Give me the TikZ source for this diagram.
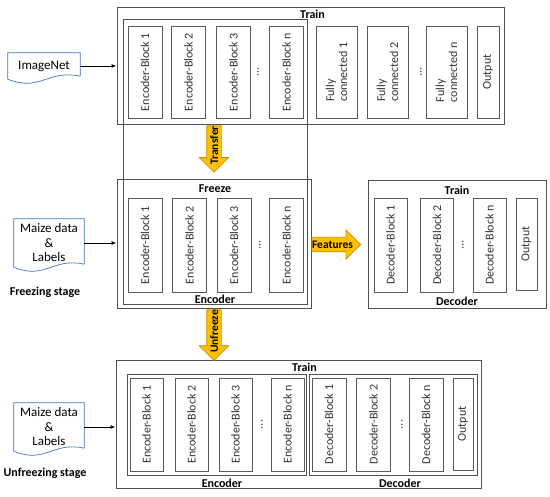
\documentclass[tikz,border=0pt]{standalone}
\usepackage{fontspec}
\setmainfont{Carlito}
\usetikzlibrary{arrows.meta,positioning,calc,shapes.arrows}

\definecolor{framegray}{HTML}{505050}
\definecolor{blkgray}{HTML}{5A5A5A}
\definecolor{txtgray}{HTML}{333333}
\definecolor{docblue}{HTML}{4472C4}
\definecolor{gold}{HTML}{FFC000}
\definecolor{golddark}{HTML}{BF9000}

% document symbol: straight top and sides, wavy bottom
\newcommand{\docwave}[1]{%
	\draw[docline] ($(#1.south east)+(0,-3)$) -- (#1.north east) -- (#1.north west) -- (#1.south west)
	.. controls ($(#1.south west)!0.45!(#1.south east)+(0,13)$) and ($(#1.south west)!0.55!(#1.south east)+(0,-10)$) .. ($(#1.south east)+(0,-3)$);}

\begin{document}
\begin{tikzpicture}[
		x=1pt,y=-1pt,
		>={Latex[length=5pt,width=4pt]},
		frame/.style={draw=framegray, line width=1pt, inner sep=0pt},
		blk/.style={draw=blkgray, line width=0.9pt, rotate=90, inner sep=1pt, text=txtgray, font=\fontsize{12}{13}\selectfont},
		dots/.style={rotate=90, inner sep=0pt, text=txtgray, font=\fontsize{12}{13}\selectfont},
		lbl/.style={inner sep=0pt, font=\fontsize{12}{14}\selectfont\bfseries},
		doc/.style={inner sep=0pt, align=center, font=\fontsize{13}{14.5}\selectfont},
		docline/.style={draw=docblue, line width=0.7pt},
		bigarrow/.style={single arrow, draw=golddark, fill=gold, line width=0.6pt,
			single arrow head extend=7.5pt, inner xsep=0pt, inner ysep=3pt,
			text height=8pt, text depth=0pt, font=\fontsize{11.5}{12}\selectfont\bfseries},
		link/.style={->, line width=0.9pt}
		]
		
		\useasboundingbox (0,0) rectangle (550,497);
		
		% --------------------------------------------------
		% Top: training on ImageNet
		% --------------------------------------------------
		\node[frame, minimum width=387pt, minimum height=117pt] (topTrain) at (310.5,66.5) {};
		\node[frame, minimum width=184pt, minimum height=285pt] (encTall) at (215,162.5) {};
		\node[lbl] at ($(topTrain.north)+(2,7)$) {Train};
		\node[lbl] at ($(encTall.south)+(0,-6)$) {Encoder};
		
		\foreach \i/\x in {1/145,2/188.5,3/233.5,n/286.5}
		{
			\node[blk, minimum width=92pt, minimum height=34pt] (te\i) at (\x,72) {Encoder-Block \i};
		}
		\node[dots] (tdots1) at (258,72) {...};
		
		\foreach \i/\x in {1/336.5,2/387.5,n/446.5}
		{
			\node[blk, align=left, minimum width=92pt, minimum height=41pt] (tf\i) at (\x,72) {Fully\\connected \i};
		}
		\node[dots] (tdots2) at (421,72) {...};
		\node[blk, minimum width=92pt, minimum height=22pt] (tout) at (488,72) {Output};
		
		\node[doc, minimum width=72pt, minimum height=26pt] (imgnet) at (44,66) {ImageNet};
		\docwave{imgnet}
		\draw[link] (imgnet.east) -- (imgnet.east -| topTrain.west);
		
		% --------------------------------------------------
		% Middle: freezing stage
		% --------------------------------------------------
		\node[frame, minimum width=194pt, minimum height=129pt] (freeze) at (214,244.5) {};
		\node[lbl] at ($(freeze.north)+(1,9.5)$) {Freeze};
		
		\foreach \i/\x in {1/145,2/189.5,3/234,n/286.5}
		{
			\node[blk, minimum width=94pt, minimum height=34pt] (me\i) at (\x,245) {Encoder-Block \i};
		}
		\node[dots] (mdots1) at (260,245) {...};
		
		\node[frame, minimum width=178pt, minimum height=128pt] (decTrain) at (457,245) {};
		\node[lbl] at ($(decTrain.north)+(0,9.5)$) {Train};
		\node[lbl] at ($(decTrain.south)+(0,-8)$) {Decoder};
		
		\foreach \i/\x in {1/390.5,2/437,n/489.5}
		{
			\node[blk, minimum width=94pt, minimum height=33pt] (md\i) at (\x,245) {Decoder-Block \i};
		}
		\node[dots] (mdots2) at (463,245) {...};
		\node[blk, minimum width=92pt, minimum height=21pt] (mout) at (526.5,244) {Output};
		
		\node[doc, minimum width=70pt, minimum height=48pt] (maize1) at (49,243) {Maize data\\\&\\Labels};
		\docwave{maize1}
		\draw[link] (maize1.east) -- (maize1.east -| freeze.west);
		\node[lbl] (stage1) at (45,292) {Freezing stage};
		
		% transfer and features arrows
		\node[bigarrow, rotate=90, shape border rotate=180, anchor=tail] (transfer) at (freeze.north |- topTrain.south) {Transfer};
		\node[bigarrow, anchor=tail] (features) at (freeze.east) {Features};
		
		% --------------------------------------------------
		% Bottom: unfreezing stage
		% --------------------------------------------------
		\node[frame, minimum width=365pt, minimum height=128pt] (botTrain) at (298.5,425) {};
		\node[frame, minimum width=179pt, minimum height=101pt] (botEnc) at (216.5,425.5) {};
		\node[frame, minimum width=168pt, minimum height=101pt] (botDec) at (393,425.5) {};
		\node[lbl] at ($(botTrain.north)+(6,6.5)$) {Train};
		\node[lbl] at (222,483) {Encoder};
		\node[lbl] at (400,483) {Decoder};
		
		\foreach \i/\x in {1/146.5,2/191.5,3/235.5,n/287.5}
		{
			\node[blk, minimum width=93pt, minimum height=33pt] (be\i) at (\x,424.5) {Encoder-Block \i};
		}
		\node[dots] (bdots1) at (262,424.5) {...};
		
		\foreach \i/\x in {1/329,2/373.5,n/426}
		{
			\node[blk, minimum width=93pt, minimum height=34pt] (bd\i) at (\x,424.5) {Decoder-Block \i};
		}
		\node[dots] (bdots2) at (402,424.5) {...};
		\node[blk, minimum width=92pt, minimum height=20pt] (bout) at (463,424) {Output};
		
		\node[doc, minimum width=70pt, minimum height=48pt] (maize2) at (49,427) {Maize data\\\&\\Labels};
		\docwave{maize2}
		\draw[link] (maize2.east) -- (maize2.east -| botTrain.west);
		\node[lbl] (stage2) at (45,473) {Unfreezing stage};
		
		\node[bigarrow, rotate=90, shape border rotate=180, anchor=tail] (unfreeze) at (freeze.south) {Unfreeze};
		
	\end{tikzpicture}
\end{document}
